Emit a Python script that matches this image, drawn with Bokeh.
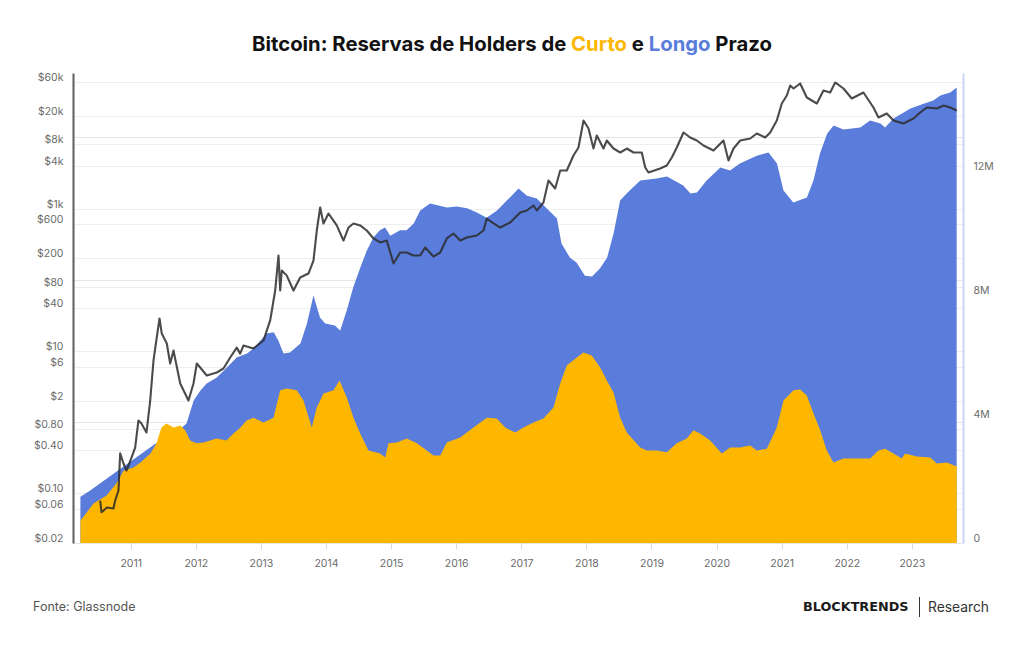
import math

from bokeh.embed import file_html
from bokeh.layouts import column
from bokeh.models import (Div, FixedTicker, Grid, LinearAxis, LinearScale,
                          LogAxis, LogScale, Range1d)
from bokeh.plotting import figure
from bokeh.resources import INLINE

# ---------------------------------------------------------------- data
# Bitcoin price (USD), sampled along the daily series (decimal years)
price_years = [
    2010.524, 2010.544, 2010.575, 2010.628, 2010.728, 2010.754, 2010.805, 2010.831, 2010.882, 2010.928,
    2011.005, 2011.061, 2011.112, 2011.158, 2011.235, 2011.292, 2011.343, 2011.393, 2011.435, 2011.470,
    2011.547, 2011.599, 2011.650, 2011.753, 2011.880, 2011.957, 2012.008, 2012.060, 2012.161, 2012.315,
    2012.418, 2012.521, 2012.622, 2012.674, 2012.725, 2012.879, 2013.032, 2013.135, 2013.212, 2013.263,
    2013.289, 2013.313, 2013.390, 2013.493, 2013.596, 2013.723, 2013.800, 2013.851, 2013.903, 2013.954,
    2014.031, 2014.158, 2014.261, 2014.338, 2014.415, 2014.518, 2014.619, 2014.722, 2014.825, 2014.926,
    2015.029, 2015.132, 2015.233, 2015.336, 2015.439, 2015.516, 2015.644, 2015.747, 2015.848, 2015.951,
    2016.054, 2016.155, 2016.309, 2016.412, 2016.462, 2016.565, 2016.668, 2016.822, 2016.975, 2017.077,
    2017.180, 2017.230, 2017.333, 2017.410, 2017.513, 2017.590, 2017.691, 2017.794, 2017.871, 2017.948,
    2018.025, 2018.101, 2018.152, 2018.255, 2018.306, 2018.409, 2018.512, 2018.613, 2018.716, 2018.843,
    2018.896, 2018.946, 2019.126, 2019.227, 2019.304, 2019.381, 2019.484, 2019.587, 2019.688, 2019.791,
    2019.945, 2020.098, 2020.175, 2020.252, 2020.355, 2020.509, 2020.610, 2020.739, 2020.816, 2020.917,
    2020.994, 2021.071, 2021.123, 2021.174, 2021.276, 2021.378, 2021.532, 2021.634, 2021.737, 2021.814,
    2021.941, 2022.069, 2022.248, 2022.402, 2022.479, 2022.606, 2022.710, 2022.863, 2023.017, 2023.120,
    2023.221, 2023.375, 2023.478, 2023.581, 2023.682,
]
price_usd = [
    0.080, 0.055, 0.058, 0.064, 0.062, 0.080, 0.111, 0.37, 0.266, 0.212,
    0.323, 0.446, 1.07, 0.97, 0.725, 2.04, 7.45, 15.7, 29.0, 17.8,
    12.9, 6.76, 10.3, 3.54, 2.04, 3.54, 6.76, 5.94, 4.58, 5.05,
    5.75, 8.2, 11.3, 9.3, 12.1, 11.0, 14.2, 27.2, 71.6, 222,
    71.6, 137, 116, 71.6, 109, 124, 189, 499, 1050, 627,
    865, 588, 361, 550, 627, 588, 499, 386, 339, 361,
    172, 245, 245, 222, 222, 288, 215, 245, 386, 453,
    361, 398, 425, 499, 736, 627, 550, 647, 893, 953,
    1122, 953, 1236, 2518, 1942, 3476, 3476, 5650, 7314, 17540,
    13520, 7080, 10790, 7080, 9184, 7080, 6224, 7080, 6224, 6224,
    3830, 3260, 3708, 4084, 5296, 7314, 11890, 10120, 9184, 7800,
    6638, 9184, 4808, 7080, 9184, 9796, 11510, 10120, 11890, 17540,
    30370, 39360, 54370, 49340, 58070, 36900, 30370, 46240, 43360, 59980,
    49340, 35720, 43360, 26680, 19310, 21980, 17540, 15920, 18700, 22700,
    26680, 25830, 28460, 26680, 24220,
]

# Long-term holder supply (millions of BTC)
lth_years = [
    2010.22, 2010.37, 2011.37, 2011.60, 2011.85, 2011.96, 2012.06, 2012.16, 2012.31, 2012.47,
    2012.62, 2012.78, 2012.88, 2013.08, 2013.19, 2013.26, 2013.34, 2013.44, 2013.60, 2013.70,
    2013.80, 2013.90, 2013.98, 2014.13, 2014.21, 2014.31, 2014.41, 2014.52, 2014.62, 2014.72,
    2014.82, 2014.90, 2014.98, 2015.13, 2015.23, 2015.34, 2015.44, 2015.59, 2015.85, 2016.00,
    2016.16, 2016.31, 2016.46, 2016.62, 2016.77, 2016.95, 2017.08, 2017.23, 2017.38, 2017.54,
    2017.61, 2017.74, 2017.84, 2017.97, 2018.08, 2018.20, 2018.31, 2018.41, 2018.51, 2018.61,
    2018.82, 2019.07, 2019.23, 2019.48, 2019.59, 2019.69, 2019.84, 2020.05, 2020.20, 2020.35,
    2020.61, 2020.79, 2020.92, 2021.02, 2021.17, 2021.38, 2021.48, 2021.58, 2021.69, 2021.79,
    2021.94, 2022.20, 2022.35, 2022.51, 2022.58, 2022.71, 2022.97, 2023.14, 2023.32, 2023.43,
    2023.58, 2023.68,
]
lth_supply_m = [
    1.51, 1.71, 3.22, 3.42, 3.87, 4.61, 4.93, 5.16, 5.35, 5.68,
    6.00, 6.13, 6.29, 6.77, 6.81, 6.55, 6.13, 6.16, 6.45, 7.10,
    8.00, 7.29, 7.10, 7.03, 6.87, 7.51, 8.26, 8.90, 9.45, 9.87,
    10.10, 10.19, 9.93, 10.10, 10.10, 10.32, 10.74, 10.97, 10.84, 10.87,
    10.81, 10.68, 10.51, 10.74, 11.06, 11.45, 11.22, 11.13, 10.81, 10.48,
    9.68, 9.22, 9.06, 8.64, 8.61, 8.87, 9.22, 10.00, 11.06, 11.29,
    11.71, 11.77, 11.84, 11.55, 11.29, 11.32, 11.71, 12.13, 12.03, 12.26,
    12.51, 12.61, 12.26, 11.39, 11.00, 11.16, 11.71, 12.58, 13.22, 13.48,
    13.35, 13.42, 13.64, 13.55, 13.42, 13.71, 14.03, 14.16, 14.29, 14.45,
    14.55, 14.71,
]

# Short-term holder supply (millions of BTC)
sth_years = [
    2010.221, 2010.421, 2010.621, 2010.774, 2010.882, 2011.035, 2011.143, 2011.296, 2011.389, 2011.465,
    2011.542, 2011.650, 2011.757, 2011.829, 2011.906, 2012.003, 2012.111, 2012.214, 2012.310, 2012.464,
    2012.571, 2012.679, 2012.771, 2012.879, 2013.032, 2013.186, 2013.289, 2013.390, 2013.544, 2013.647,
    2013.774, 2013.851, 2013.954, 2014.108, 2014.200, 2014.312, 2014.415, 2014.518, 2014.645, 2014.825,
    2014.902, 2014.952, 2015.080, 2015.233, 2015.387, 2015.541, 2015.644, 2015.747, 2015.848, 2016.054,
    2016.258, 2016.462, 2016.616, 2016.745, 2016.899, 2017.026, 2017.180, 2017.333, 2017.487, 2017.590,
    2017.691, 2017.845, 2017.948, 2018.075, 2018.204, 2018.306, 2018.409, 2018.512, 2018.613, 2018.819,
    2018.920, 2019.074, 2019.227, 2019.381, 2019.535, 2019.638, 2019.740, 2019.894, 2020.072, 2020.201,
    2020.355, 2020.509, 2020.610, 2020.764, 2020.917, 2021.020, 2021.174, 2021.276, 2021.378, 2021.481,
    2021.584, 2021.685, 2021.788, 2021.942, 2022.198, 2022.352, 2022.479, 2022.582, 2022.710, 2022.837,
    2022.889, 2023.068, 2023.273, 2023.375, 2023.528, 2023.682,
]
sth_supply_m = [
    0.74, 1.29, 1.55, 1.94, 2.35, 2.45, 2.61, 2.90, 3.23, 3.74,
    3.87, 3.74, 3.81, 3.65, 3.32, 3.23, 3.26, 3.32, 3.39, 3.32,
    3.55, 3.74, 3.97, 4.06, 3.90, 4.06, 4.94, 5.00, 4.94, 4.61,
    3.74, 4.39, 4.84, 4.94, 5.26, 4.71, 4.06, 3.55, 3.00, 2.90,
    2.77, 3.23, 3.26, 3.39, 3.23, 3.00, 2.84, 2.84, 3.26, 3.42,
    3.74, 4.06, 4.03, 3.74, 3.58, 3.74, 3.90, 4.03, 4.39, 5.16,
    5.74, 6.00, 6.16, 6.06, 5.68, 5.26, 4.87, 4.06, 3.58, 3.10,
    3.00, 3.00, 2.94, 3.23, 3.39, 3.65, 3.55, 3.32, 2.90, 3.10,
    3.10, 3.16, 3.00, 3.06, 3.74, 4.61, 4.94, 4.97, 4.77, 4.19,
    3.65, 3.00, 2.61, 2.74, 2.74, 2.74, 3.00, 3.06, 2.90, 2.74,
    2.90, 2.81, 2.77, 2.58, 2.61, 2.48,
]

# Axis ticks
year_ticks = [2011, 2012, 2013, 2014, 2015, 2016, 2017, 2018, 2019, 2020, 2021, 2022, 2023]
price_ticks = [0.02, 0.06, 0.10, 0.40, 0.80, 2, 6, 10, 40, 80, 200, 600, 1000, 4000, 8000, 20000, 60000]
price_tick_labels = ["$0.02", "$0.06", "$0.10", "$0.40", "$0.80", "$2", "$6", "$10", "$40",
                     "$80", "$200", "$600", "$1k", "$4k", "$8k", "$20k", "$60k"]
supply_ticks = [0, 4, 8, 12]
supply_tick_labels = ["0", "4M", "8M", "12M"]

# ---------------------------------------------------------------- style
W = 1024
HEADER_H = 60
FOOTER_H = 62
FIG_H = 645 - HEADER_H - FOOTER_H
BORDER_L, BORDER_R, BORDER_T, BORDER_B = 73, 61, 13, 40
X_START, X_END = 2010.114, 2023.785
PRICE_LO, PRICE_HI = 0.02, 80180.0
SUPPLY_HI = 15.16
LABEL_LIFT = 5  # axis labels sit a few pixels above their tick lines

BLUE = "#5a7ddb"
YELLOW = "#fdb700"
INK = "#111111"
TICK_TEXT = "#6b6b6b"
FONT = "Inter"

frame_h = FIG_H - BORDER_T - BORDER_B
px_per_decade = frame_h / math.log10(PRICE_HI / PRICE_LO)
px_per_million = frame_h / SUPPLY_HI
lift_price = 10 ** (-LABEL_LIFT / px_per_decade)
lift_supply = LABEL_LIFT / px_per_million

p = figure(
    width=W, height=FIG_H, output_backend="svg", toolbar_location=None,
    x_range=Range1d(X_START, X_END),
    y_range=Range1d(PRICE_LO, PRICE_HI), y_axis_type="log", y_axis_location=None,
    min_border_left=BORDER_L, min_border_right=BORDER_R,
    min_border_top=BORDER_T, min_border_bottom=BORDER_B,
    margin=0,
)
p.outline_line_color = None
p.background_fill_color = "white"
p.border_fill_color = "white"
p.xgrid.visible = False

p.extra_y_ranges = {
    "supply": Range1d(0, SUPPLY_HI),
    "price_lbl": Range1d(PRICE_LO * lift_price, PRICE_HI * lift_price),
    "supply_lbl": Range1d(-lift_supply, SUPPLY_HI - lift_supply),
}
p.extra_y_scales = {
    "supply": LinearScale(),
    "price_lbl": LogScale(),
    "supply_lbl": LinearScale(),
}

# horizontal guides at the price ticks
p.add_layout(Grid(dimension=1, ticker=FixedTicker(ticks=price_ticks),
                  grid_line_color="#eeeeee", grid_line_width=1))

# x axis
xa = p.xaxis[0]
xa.ticker = FixedTicker(ticks=year_ticks)
xa.major_label_overrides = {y: str(y) for y in year_ticks}
xa.axis_line_color = "#e6e6e6"
xa.major_tick_line_color = "#d9d9d9"
xa.major_tick_out = 6
xa.major_tick_in = 0
xa.minor_tick_line_color = None
xa.major_label_standoff = 9
xa.major_label_text_font = FONT
xa.major_label_text_font_size = "10.5px"
xa.major_label_text_color = TICK_TEXT

# left: price (log)
la = LogAxis(y_range_name="price_lbl", ticker=FixedTicker(ticks=price_ticks),
             major_label_overrides=dict(zip(price_ticks, price_tick_labels)))
la.axis_line_color = "#5f5f5f"
la.axis_line_width = 2
la.major_tick_line_color = None
la.minor_tick_line_color = None
la.major_label_standoff = 4
la.major_label_text_font = FONT
la.major_label_text_font_size = "10.5px"
la.major_label_text_color = TICK_TEXT
p.add_layout(la, "left")

# right: supply
ra = LinearAxis(y_range_name="supply_lbl", ticker=FixedTicker(ticks=supply_ticks),
                major_label_overrides=dict(zip(supply_ticks, supply_tick_labels)))
ra.axis_line_color = "#c9d6f7"
ra.axis_line_width = 2
ra.major_tick_line_color = None
ra.minor_tick_line_color = None
ra.major_label_standoff = 4
ra.major_label_text_font = FONT
ra.major_label_text_font_size = "10.5px"
ra.major_label_text_color = TICK_TEXT
p.add_layout(ra, "right")

# series
p.varea(x=lth_years, y1=0, y2=lth_supply_m, y_range_name="supply",
        fill_color=BLUE, fill_alpha=1.0)
p.varea(x=sth_years, y1=0, y2=sth_supply_m, y_range_name="supply",
        fill_color=YELLOW, fill_alpha=1.0)
p.line(price_years, price_usd, line_color="#2b2b2b", line_width=2.1, line_alpha=0.85,
       line_join="round")

# ---------------------------------------------------------------- header / footer
title_html = (
    f'<div style="width:{W}px;height:{HEADER_H}px;box-sizing:border-box;padding-top:31px;'
    f'text-align:center;font-family:{FONT},sans-serif;font-weight:700;font-size:20.3px;'
    f'line-height:25px;color:{INK};white-space:nowrap;">'
    'Bitcoin: Reservas de Holders de '
    f'<span style="color:{YELLOW}">Curto</span> e '
    f'<span style="color:{BLUE}">Longo</span> Prazo'
    '</div>'
)
header = Div(text=title_html, width=W, height=HEADER_H, margin=0)

footer_html = (
    f'<div style="position:relative;width:{W}px;height:{FOOTER_H}px;white-space:nowrap;">'
    f'<span style="position:absolute;left:33px;top:16px;line-height:16px;'
    f'font-family:{FONT},sans-serif;font-size:12.5px;color:#555555;">Fonte: Glassnode</span>'
    '<span style="position:absolute;left:803px;top:16px;line-height:16px;'
    "font-family:'DejaVu Sans',sans-serif;font-weight:700;font-size:12.8px;"
    'color:#1a1a1a;">BLOCKTRENDS</span>'
    '<span style="position:absolute;left:919px;top:14px;width:1px;height:20px;'
    'background:#333333;"></span>'
    f'<span style="position:absolute;left:928px;top:15px;line-height:18px;'
    f'font-family:{FONT},sans-serif;font-size:13.8px;color:#333333;">Research</span>'
    '</div>'
)
footer = Div(text=footer_html, width=W, height=FOOTER_H, margin=0)

page = column(header, p, footer, spacing=0, margin=0)

open("out.html", "w").write(file_html(page, INLINE))
